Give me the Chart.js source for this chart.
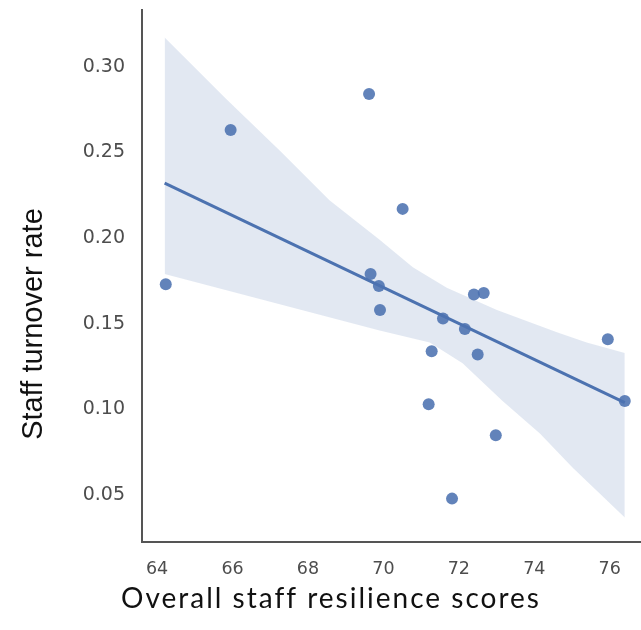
<!DOCTYPE html>
<html>
<head>
<meta charset="utf-8">
<script src="https://cdn.jsdelivr.net/npm/chart.js@4.4.1/dist/chart.umd.min.js"></script>
<style>
  html, body { margin: 0; padding: 0; background: #fff; }
  #wrap { width: 641px; height: 630px; }
</style>
</head>
<body>
<div id="wrap"><canvas id="grafico"></canvas></div>
<script>
// dados
const resilienceScores = [64.23, 65.95, 69.62, 70.51, 69.66, 69.88, 69.91, 71.58, 71.28, 72.16, 72.40, 72.66, 72.50, 75.95, 76.40, 71.20, 72.98, 71.82];
const turnoverRates   = [0.173, 0.263, 0.284, 0.217, 0.179, 0.172, 0.158, 0.153, 0.134, 0.147, 0.167, 0.168, 0.132, 0.141, 0.105, 0.103, 0.085, 0.048];

// linha de regressão (extremos)
const fitX = [64.2, 76.4];
const fitY = [0.232, 0.104];

// intervalo de confiança
const ciUpperX = [64.2, 65.84, 67.25, 68.57, 69.90, 70.78, 71.68, 73.01, 74.60, 75.39, 76.40];
const ciUpperY = [0.317, 0.281, 0.251, 0.222, 0.199, 0.183, 0.171, 0.158, 0.145, 0.139, 0.133];
const ciLowerX = [64.2, 69.90, 71.23, 72.10, 73.16, 74.15, 75.02, 76.40];
const ciLowerY = [0.179, 0.146, 0.139, 0.127, 0.105, 0.086, 0.066, 0.037];

const xTicks = [64, 66, 68, 70, 72, 74, 76];
const yTicks = [0.05, 0.10, 0.15, 0.20, 0.25, 0.30];

const xTitle = 'Overall staff resilience scores';
const yTitle = 'Staff turnover rate';

const toPoints = (xs, ys) => xs.map((x, i) => ({ x: x, y: ys[i] }));

const azul = '#4C72B0';

// títulos dos eixos desenhados à mão (posição fora do centro, como na figura)
const axisTitles = {
  id: 'axisTitles',
  afterDraw(chart) {
    const ctx = chart.ctx;
    ctx.save();
    ctx.fillStyle = '#111';
    ctx.textAlign = 'center';
    ctx.textBaseline = 'alphabetic';
    ctx.font = '28px Lato';
    ctx.letterSpacing = '2px';
    ctx.fillText(xTitle, 331, 608);
    ctx.letterSpacing = '0px';
    ctx.font = '29px "Liberation Sans"';
    ctx.translate(42, 324);
    ctx.rotate(-Math.PI / 2);
    ctx.fillText(yTitle, 0, 0);
    ctx.restore();
  }
};

new Chart(document.getElementById('grafico'), {
  type: 'scatter',
  data: {
    datasets: [
      {
        data: toPoints(ciUpperX, ciUpperY),
        showLine: true,
        pointRadius: 0,
        borderWidth: 0,
        borderColor: 'rgba(0,0,0,0)',
        backgroundColor: 'rgba(76,114,176,0.16)',
        fill: '+1',
        order: 3
      },
      {
        data: toPoints(ciLowerX, ciLowerY),
        showLine: true,
        pointRadius: 0,
        borderWidth: 0,
        borderColor: 'rgba(0,0,0,0)',
        fill: false,
        order: 4
      },
      {
        data: toPoints(fitX, fitY),
        showLine: true,
        pointRadius: 0,
        borderWidth: 3,
        borderColor: azul,
        fill: false,
        order: 1
      },
      {
        data: toPoints(resilienceScores, turnoverRates),
        pointRadius: 6,
        pointBorderWidth: 0,
        backgroundColor: 'rgba(76,114,176,0.88)',
        order: 0
      }
    ]
  },
  options: {
    responsive: true,
    maintainAspectRatio: false,
    animation: false,
    layout: { autoPadding: false, padding: { top: 10, right: 0, left: 0, bottom: 0 } },
    scales: {
      x: {
        type: 'linear',
        min: 63.6,
        max: 76.83,
        afterBuildTicks: s => { s.ticks = xTicks.map(v => ({ value: v })); },
        afterFit: s => { s.height = 88; s.paddingLeft = 0; s.paddingRight = 0; },
        ticks: {
          color: '#4d4d4d',
          font: { family: 'DejaVu Sans', size: 17.5 },
          padding: 9,
          callback: v => String(v)
        },
        grid: { display: false },
        border: { display: true, color: '#555', width: 2 }
      },
      y: {
        type: 'linear',
        min: 0.0227,
        max: 0.333,
        afterBuildTicks: s => { s.ticks = yTicks.map(v => ({ value: v })); },
        afterFit: s => { s.width = 142; s.paddingTop = 0; s.paddingBottom = 0; },
        ticks: {
          color: '#4d4d4d',
          font: { family: 'DejaVu Sans', size: 19 },
          padding: 9,
          callback: v => v.toFixed(2)
        },
        grid: { display: false },
        border: { display: true, color: '#555', width: 2 }
      }
    },
    plugins: {
      legend: { display: false },
      tooltip: { enabled: false }
    }
  },
  plugins: [axisTitles]
});
</script>
</body>
</html>
